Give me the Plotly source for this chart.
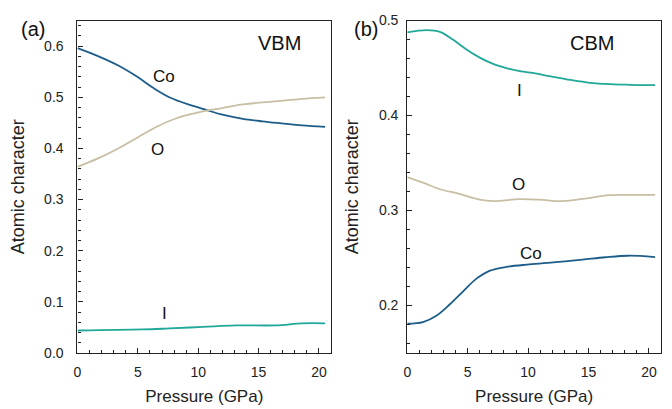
import plotly.graph_objects as go

# Panel (a) VBM
p_ac = [0, 1.65, 3.3, 4.95, 6.3, 7.7, 9.3, 10.7, 12.0, 13.7, 15.3, 16.9, 18.6, 20.5]
co_a = [0.596, 0.581, 0.563, 0.540, 0.518, 0.499, 0.485, 0.475, 0.466, 0.458, 0.453, 0.449, 0.445, 0.442]
p_ao = [0, 1.65, 3.3, 4.95, 6.6, 8.2, 9.6, 10.7, 12.0, 13.7, 15.3, 16.9, 18.6, 20.5]
o_a = [0.364, 0.380, 0.399, 0.421, 0.443, 0.459, 0.468, 0.474, 0.479, 0.486, 0.490, 0.493, 0.497, 0.500]
p_ai = [0, 5.4, 7.6, 10.4, 13.1, 16.4, 18.6, 20.5]
i_a = [0.044, 0.046, 0.048, 0.051, 0.054, 0.054, 0.058, 0.058]

# Panel (b) CBM
p_bi = [0, 1.6, 2.7, 3.8, 4.9, 6.0, 7.1, 8.2, 9.3, 10.6, 11.9, 13.5, 15.1, 16.8, 18.4, 20.5]
i_b = [0.4875, 0.4899, 0.4881, 0.4797, 0.4696, 0.461, 0.4544, 0.450, 0.4468, 0.4443,
       0.4412, 0.4375, 0.4345, 0.433, 0.4324, 0.432]
p_bo = [0, 1.3, 2.7, 4.3, 6.0, 7.1, 9.3, 10.9, 12.8, 14.7, 16.7, 18.6, 20.5]
o_b = [0.3352, 0.3294, 0.3224, 0.3176, 0.3115, 0.3100, 0.3120, 0.3115, 0.3098, 0.3125,
       0.3162, 0.3165, 0.3165]
p_bc = [0, 1.3, 2.4, 3.5, 4.6, 5.7, 6.8, 8.2, 10.1, 12.3, 14.5, 16.4, 18.3, 20.5]
co_b = [0.1808, 0.1825, 0.1892, 0.201, 0.2146, 0.228, 0.2365, 0.2406, 0.2432, 0.2456,
        0.2483, 0.2508, 0.2524, 0.251]

C_CO = "#1d5d8a"
C_O = "#c8bea4"
C_I = "#20a899"
FONT = "Liberation Sans, Arial, sans-serif"

fig = go.Figure()
def line(x, y, c, xa, ya):
    fig.add_trace(go.Scatter(x=x, y=y, mode="lines", xaxis=xa, yaxis=ya,
                             line=dict(color=c, width=1.8, shape="spline", smoothing=1.0),
                             showlegend=False, hoverinfo="skip"))

line(p_ac, co_a, C_CO, "x", "y")
line(p_ao, o_a, C_O, "x", "y")
line(p_ai, i_a, C_I, "x", "y")
line(p_bi, i_b, C_I, "x2", "y2")
line(p_bo, o_b, C_O, "x2", "y2")
line(p_bc, co_b, C_CO, "x2", "y2")

axis_common = dict(showline=True, linecolor="#222", linewidth=1.2, mirror=True,
                   ticks="inside", ticklen=5, tickwidth=1.2, tickcolor="#222",
                   showgrid=False, zeroline=False,
                   tickfont=dict(family=FONT, size=14, color="#222"),
                   minor=dict(ticks="inside", ticklen=3, tickwidth=1.2, tickcolor="#222", showgrid=False))
xa = dict(axis_common, range=[0, 21], dtick=5, tick0=0, ticklabelstandoff=6,
          title=dict(text="Pressure (GPa)", font=dict(family=FONT, size=17, color="#222"), standoff=11))
ytitle = dict(text="Atomic character", font=dict(family=FONT, size=18, color="#222"))

fig.update_layout(
    width=672, height=409, margin=dict(l=0, r=0, t=0, b=0),
    paper_bgcolor="white", plot_bgcolor="white",
    xaxis=dict(xa, domain=[0.110, 0.4896], anchor="y"),
    xaxis2=dict(xa, domain=[0.6037, 0.9836], anchor="y2"),
    yaxis=dict(axis_common, range=[0, 0.65], dtick=0.1, tick0=0, tickformat=".1f",
               domain=[0.1222, 0.968], anchor="x", ticklabelstandoff=10,
               title=dict(ytitle, standoff=14)),
    yaxis2=dict(axis_common, range=[0.15, 0.5], dtick=0.1, tick0=0.2, tickformat=".1f",
                domain=[0.1222, 0.968], anchor="x2", ticklabelstandoff=5,
                title=dict(ytitle, standoff=15)),
)

def ann(text, x, y, size):
    fig.add_annotation(text=text, x=x / 672, y=1 - y / 409, xref="paper", yref="paper",
                       showarrow=False, font=dict(family=FONT, size=size, color="#111"),
                       xanchor="center", yanchor="middle")

ann("(a)", 29, 22, 20)
ann("(b)", 364, 22, 20)
ann("VBM", 277, 36, 20)
ann("CBM", 592, 36, 20)
ann("Co", 161, 71, 17)
ann("O", 154, 147, 17)
ann("I", 161, 318, 17)
ann("I", 519, 86, 17)
ann("O", 518, 184, 17)
ann("Co", 530, 256, 17)

fig.write_html("out.html")
